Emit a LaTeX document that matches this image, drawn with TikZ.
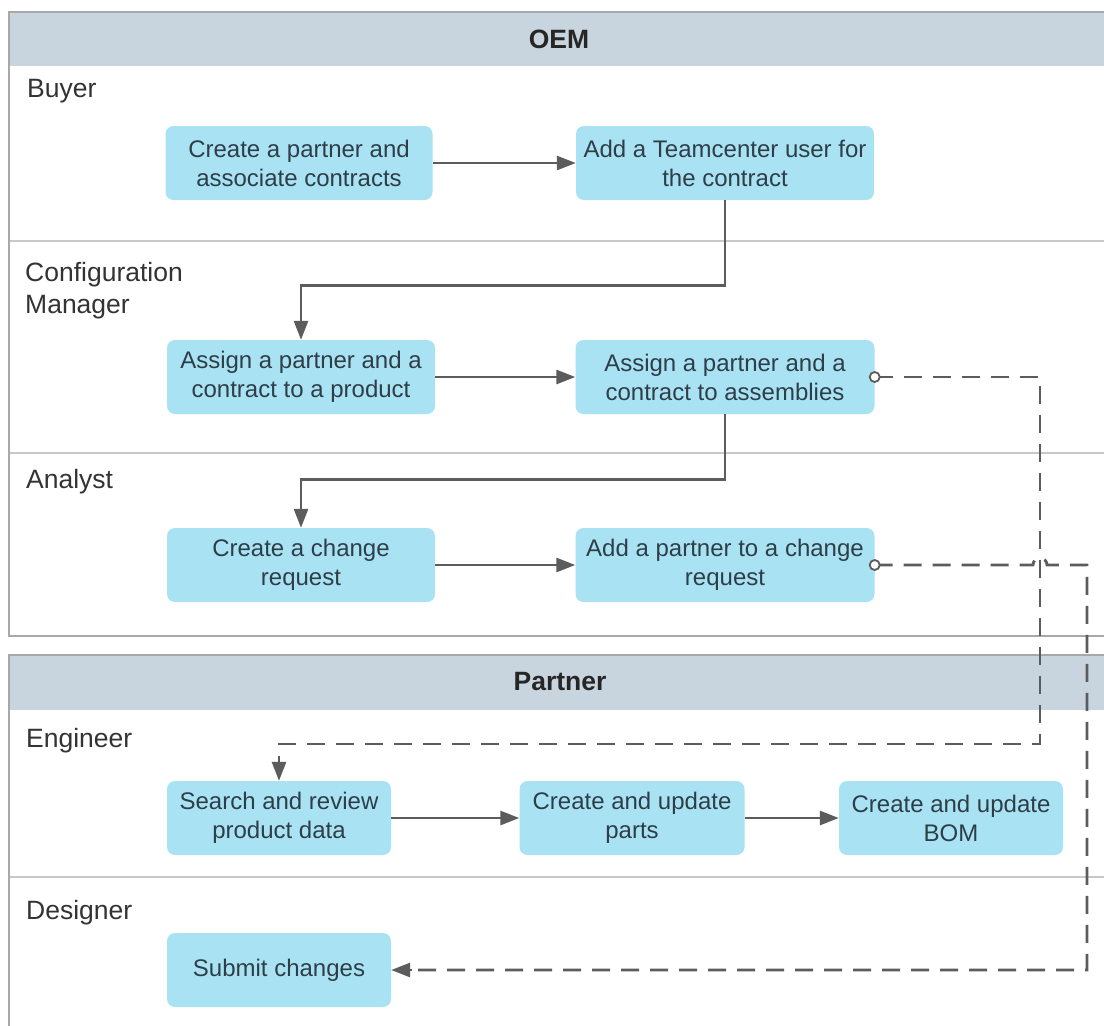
\documentclass[tikz,border=0pt]{standalone}
\usepackage{fontspec}
\setmainfont{Liberation Sans}
\usetikzlibrary{arrows.meta}
\definecolor{nodefill}{HTML}{A9E3F3}
\definecolor{hdrfill}{HTML}{C8D5DE}
\definecolor{poolline}{HTML}{A8A8A8}
\definecolor{laneline}{HTML}{C8C8C8}
\definecolor{flowcol}{HTML}{5C5C5C}
\definecolor{txtcol}{HTML}{2E3E48}
\tikzset{
  box/.style={draw=none, fill=nodefill, rounded corners=8pt, align=center,
    text=txtcol, font=\fontsize{24}{29}\selectfont, inner sep=0pt},
  lanelabel/.style={inner sep=0pt, text=black!80, font=\fontsize{26.5}{32}\selectfont, align=left},
  hdrlabel/.style={inner sep=0pt, text=black!85, font=\fontsize{26.5}{30}\selectfont\bfseries},
  flow/.style={draw=flowcol, line width=2.8pt, -{Triangle[length=19pt,width=14pt]}},
  dflow/.style={draw=flowcol, line width=2.8pt, dash pattern=on 18pt off 11pt},
  dtip/.style={draw=flowcol, line width=2.8pt, -{Triangle[length=19pt,width=14pt]}},
  opencirc/.style={circle, draw=flowcol, fill=white, line width=1.8pt, minimum size=10pt, inner sep=0pt},
}
\begin{document}
\begin{tikzpicture}[x=1pt,y=-1pt]
\clip (0,0) rectangle (1104,1026);
\fill[white] (0,0) rectangle (1104,1026);
% OEM pool
\fill[hdrfill] (9,12) rectangle (1120,66);
\draw[laneline, line width=1.2pt] (9,241) -- (1120,241);
\draw[laneline, line width=1.2pt] (9,453) -- (1120,453);
\draw[poolline, line width=1.6pt] (9,12) rectangle (1120,636);
\node[hdrlabel] (oem) at (559,39) {OEM};
% Partner pool
\fill[hdrfill] (9,655) rectangle (1120,710);
\draw[laneline, line width=1.2pt] (9,877) -- (1120,877);
\draw[poolline, line width=1.6pt] (9,1040) -- (9,655) -- (1120,655);
\node[hdrlabel] (partner) at (560,682) {Partner};
% lane labels
\node[lanelabel, anchor=base west] (buyer) at (27,97) {Buyer};
\node[lanelabel, anchor=north west] (cm) at (25,262) {Configuration\\Manager};
\node[lanelabel, anchor=base west] (analyst) at (26,488) {Analyst};
\node[lanelabel, anchor=base west] (engineer) at (26,747) {Engineer};
\node[lanelabel, anchor=base west] (designer) at (26,919) {Designer};
% nodes
\node[box, minimum width=267pt, minimum height=74pt] (n1) at (299,163) {Create a partner and\\associate contracts};
\node[box, minimum width=298pt, minimum height=74pt] (n2) at (725,163) {Add a Teamcenter user for\\the contract};
\node[box, minimum width=268pt, minimum height=74pt] (n3) at (301,377) {Assign a partner and a\\contract to a product};
\node[box, minimum width=299pt, minimum height=74pt] (n4) at (725,377) {Assign a partner and a\\contract to assemblies};
\node[box, minimum width=268pt, minimum height=74pt] (n5) at (301,565) {Create a change\\request};
\node[box, minimum width=299pt, minimum height=74pt] (n6) at (725,565) {Add a partner to a change\\request};
\node[box, minimum width=224pt, minimum height=74pt] (n7) at (279,818) {Search and review\\product data};
\node[box, minimum width=225pt, minimum height=74pt] (n8) at (632,818) {Create and update\\parts};
\node[box, minimum width=224pt, minimum height=74pt] (n9) at (951,818) {Create and update\\BOM};
\node[box, minimum width=224pt, minimum height=74pt] (n10) at (279,970) {Submit changes};
% solid flows
\draw[flow] (n1) -- (n2);
\draw[flow] (n2.south) -- ++(0,85) -| (n3.north);
\draw[flow] (n3) -- (n4);
\draw[flow] (n4.south) -- ++(0,65) -| (n5.north);
\draw[flow] (n5) -- (n6);
\draw[flow] (n7) -- (n8);
\draw[flow] (n8) -- (n9);
% dashed flows
\coordinate (c1) at (1040,744);
\coordinate (c1b) at (279,760);
\draw[dflow] (n4.east) -| (c1) -| (c1b);
\draw[dtip] (c1b) -- (n7.north);
\coordinate (hopa) at (1033,565);
\coordinate (c2) at (1087,970);
\coordinate (c2b) at (412,970);
\draw[dflow] (n6.east) -- (hopa) arc (180:360:7) -| (c2) -- (c2b);
\draw[dtip] (c2b) -- (n10.east);
\node[opencirc] (o1) at (n4.east) {};
\node[opencirc] (o2) at (n6.east) {};
\end{tikzpicture}
\end{document}
